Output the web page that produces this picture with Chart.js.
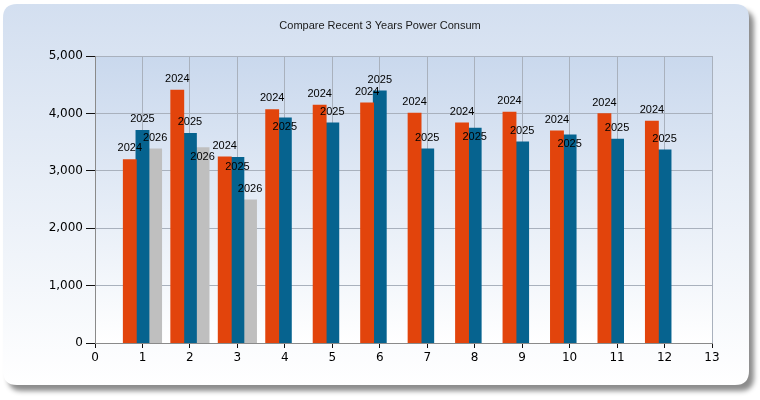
<!DOCTYPE html>
<html><head><meta charset="utf-8">
<script src="https://cdn.jsdelivr.net/npm/chart.js@4/dist/chart.umd.min.js"></script>
<style>html,body{margin:0;padding:0;background:#fff;} canvas{display:block;}</style>
</head><body>
<canvas id="c" width="760" height="400"></canvas>
<script>
const chartTitle = 'Compare Recent 3 Years Power Consum';
const seriesNames = ['2024', '2025', '2026'];
const months2024 = [1, 2, 3, 4, 5, 6, 7, 8, 9, 10, 11, 12];
const values2024 = [3190, 4400, 3240, 4060, 4140, 4180, 4000, 3830, 4020, 3690, 3990, 3860];
const months2025 = [1, 2, 3, 4, 5, 6, 7, 8, 9, 10, 11, 12];
const values2025 = [3700, 3650, 3230, 3920, 3830, 4390, 3380, 3740, 3500, 3620, 3550, 3360];
const months2026 = [1, 2, 3];
const values2026 = [3380, 3400, 2490];
const xMin = 0, xMax = 13, xStep = 1;
const yMin = 0, yMax = 5000, yStep = 1000;
const seriesColors = ['#E2440C', '#06638F', '#BFBFBF'];

function pts(xs, ys) { return xs.map((x, i) => ({ x: x, y: ys[i] })); }

function roundRect(ctx, x, y, w, h, r) {
  ctx.beginPath();
  ctx.moveTo(x + r, y);
  ctx.lineTo(x + w - r, y);
  ctx.quadraticCurveTo(x + w, y, x + w, y + r);
  ctx.lineTo(x + w, y + h - r);
  ctx.quadraticCurveTo(x + w, y + h, x + w - r, y + h);
  ctx.lineTo(x + r, y + h);
  ctx.quadraticCurveTo(x, y + h, x, y + h - r);
  ctx.lineTo(x, y + r);
  ctx.quadraticCurveTo(x, y, x + r, y);
  ctx.closePath();
}

const bgPlugin = {
  id: 'bg',
  beforeDraw(chart) {
    const ctx = chart.ctx, a = chart.chartArea;
    ctx.save();
    ctx.fillStyle = '#ffffff';
    ctx.fillRect(0, 0, chart.width, chart.height);
    ctx.shadowColor = 'rgba(0,0,0,0.45)';
    ctx.shadowBlur = 5;
    ctx.shadowOffsetX = 5;
    ctx.shadowOffsetY = 6;
    roundRect(ctx, 3, 4, 746, 381, 14);
    const g = ctx.createLinearGradient(0, 4, 0, 385);
    g.addColorStop(0, '#d3dff0');
    g.addColorStop(1, '#ffffff');
    ctx.fillStyle = g;
    ctx.fill();
    ctx.shadowColor = 'transparent';
    const pg = ctx.createLinearGradient(0, a.top, 0, a.bottom);
    pg.addColorStop(0, '#c9d8ed');
    pg.addColorStop(1, '#ffffff');
    ctx.fillStyle = pg;
    ctx.fillRect(a.left, a.top, a.right - a.left, a.bottom - a.top);
    ctx.fillStyle = '#1a1a1a';
    ctx.font = '11px "Liberation Sans", Arial, sans-serif';
    ctx.textAlign = 'center';
    ctx.textBaseline = 'middle';
    ctx.fillText(chartTitle, 380, 26);
    ctx.restore();
  }
};

const labelPlugin = {
  id: 'lbl',
  afterDatasetsDraw(chart) {
    const ctx = chart.ctx;
    ctx.save();
    ctx.font = '11px "Liberation Sans", Arial, sans-serif';
    ctx.fillStyle = '#000';
    ctx.textAlign = 'center';
    ctx.textBaseline = 'middle';
    const placed = {};
    chart.data.datasets.forEach((ds, di) => {
      const meta = chart.getDatasetMeta(di);
      meta.data.forEach((el, i) => {
        const key = ds.data[i].x;
        let y = el.y - 11.5;
        const prev = placed[key];
        if (prev !== undefined) {
          const dy = y - prev;
          if (dy > -11 && dy < 16) y = el.y + 9;
        }
        placed[key] = y;
        ctx.fillText(ds.label, el.x, y);
      });
    });
    ctx.restore();
  }
};

new Chart(document.getElementById('c'), {
  type: 'bar',
  data: {
    datasets: [
      { label: seriesNames[0], data: pts(months2024, values2024), backgroundColor: seriesColors[0] },
      { label: seriesNames[1], data: pts(months2025, values2025), backgroundColor: seriesColors[1] },
      { label: seriesNames[2], data: pts(months2026, values2026), backgroundColor: seriesColors[2] }
    ]
  },
  options: {
    responsive: false,
    animation: false,
    locale: 'en-US',
    categoryPercentage: 0.8,
    barPercentage: 1.0,
    elements: { bar: { borderWidth: 0, inflateAmount: 0.6 } },
    layout: { padding: { left: 0, top: 56, right: 48, bottom: 0 } },
    plugins: { legend: { display: false }, tooltip: { enabled: false }, title: { display: false } },
    scales: {
      x: {
        type: 'linear', offset: false, min: xMin, max: xMax,
        ticks: { stepSize: xStep, color: '#000', font: { family: 'DejaVu Sans', size: 12 }, padding: 3 },
        grid: { offset: false, color: '#a9b1bd', tickColor: '#111', tickLength: 5 },
        border: { color: '#8a8a8a' },
        afterFit(s) { s.height = 57; }
      },
      y: {
        min: yMin, max: yMax,
        ticks: { stepSize: yStep, color: '#000', font: { family: 'DejaVu Sans', size: 12 }, padding: 3,
          callback: v => v.toLocaleString('en-US') },
        grid: { color: '#a9b1bd', tickColor: '#111', tickLength: 9 },
        border: { color: '#8a8a8a' },
        afterFit(s) { s.width = 95; }
      }
    }
  },
  plugins: [bgPlugin, labelPlugin]
});
</script>
</body></html>
